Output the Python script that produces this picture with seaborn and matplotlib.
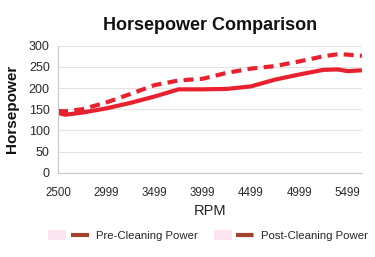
import matplotlib
matplotlib.use("Agg")
import matplotlib.pyplot as plt
import seaborn as sns
import pandas as pd
from matplotlib.lines import Line2D
from matplotlib.legend_handler import HandlerTuple

rpm = [2500, 2575, 2750, 3000, 3250, 3500, 3750, 4000, 4250, 4500, 4750, 5000, 5250, 5400, 5500, 5650]
pre_cleaning = [141, 137, 142, 152, 165, 180, 197, 197, 198, 204, 220, 232, 243, 244, 240, 242]
post_cleaning = [146, 145, 150, 166, 186, 207, 218, 222, 236, 246, 252, 263, 275, 280, 279, 276]
x_ticks = [2500, 2999, 3499, 3999, 4499, 4999, 5499]
y_ticks = [0, 50, 100, 150, 200, 250, 300]
series_names = ["Pre-Cleaning Power", "Post-Cleaning Power"]

df = pd.concat([
    pd.DataFrame({"RPM": rpm, "HP": pre_cleaning, "Series": series_names[0]}),
    pd.DataFrame({"RPM": rpm, "HP": post_cleaning, "Series": series_names[1]}),
])

sns.set_style("white")
plt.rcParams["font.family"] = ["Liberation Sans", "DejaVu Sans"]

fig = plt.figure(figsize=(3.75, 2.57), dpi=100)
ax = fig.add_axes([0.155, 0.328, 0.81, 0.494])

red = "#e8212e"
sns.lineplot(data=df, x="RPM", y="HP", hue="Series", style="Series",
             palette=[red, red], dashes=[(1, 0), (2.4, 1.5)],
             linewidth=3.0, legend=False, ax=ax)

ax.set_xlim(2500, 5650)
ax.set_ylim(0, 300)
ax.set_xticks(x_ticks)
ax.set_xticklabels([str(t) for t in x_ticks], fontsize=8.3, color="#2a2a2a")
ax.set_yticks(y_ticks)
ax.set_yticklabels([str(t) for t in y_ticks], fontsize=9, color="#2a2a2a")
ax.tick_params(axis="x", length=0, pad=10)
ax.tick_params(axis="y", length=0, pad=6)
ax.yaxis.grid(True, color="#e3e3e3", linewidth=0.8)
ax.set_axisbelow(True)
for s in ["top", "right"]:
    ax.spines[s].set_visible(False)
for s in ["left", "bottom"]:
    ax.spines[s].set_color("#c8c8c8")
    ax.spines[s].set_linewidth(0.8)

ax.set_xlabel("RPM", fontsize=10.5, labelpad=4, color="#222222")
ax.set_ylabel("Horsepower", fontsize=11, fontweight="bold", labelpad=7, color="#111111")
ax.set_title("Horsepower Comparison", fontsize=13, fontweight="bold", pad=11, color="#111111")

pink = "#fce4f1"
brown = "#a3432f"
h1 = (Line2D([], [], color=pink, linewidth=7, solid_capstyle="butt"),
      Line2D([], [], color=brown, linewidth=3, solid_capstyle="butt"))
h2 = (Line2D([], [], color=pink, linewidth=7, solid_capstyle="butt"),
      Line2D([], [], color=brown, linewidth=3, linestyle=(0, (4.2, 1.6))))
fig.legend([h1, h2], series_names, handler_map={tuple: HandlerTuple(ndivide=None)},
           loc="center", bbox_to_anchor=(0.555, 0.08), ncol=2, frameon=False,
           fontsize=8.2, handlelength=3.6, columnspacing=1.4, handletextpad=0.6)

fig.savefig("out.png", dpi=100)
